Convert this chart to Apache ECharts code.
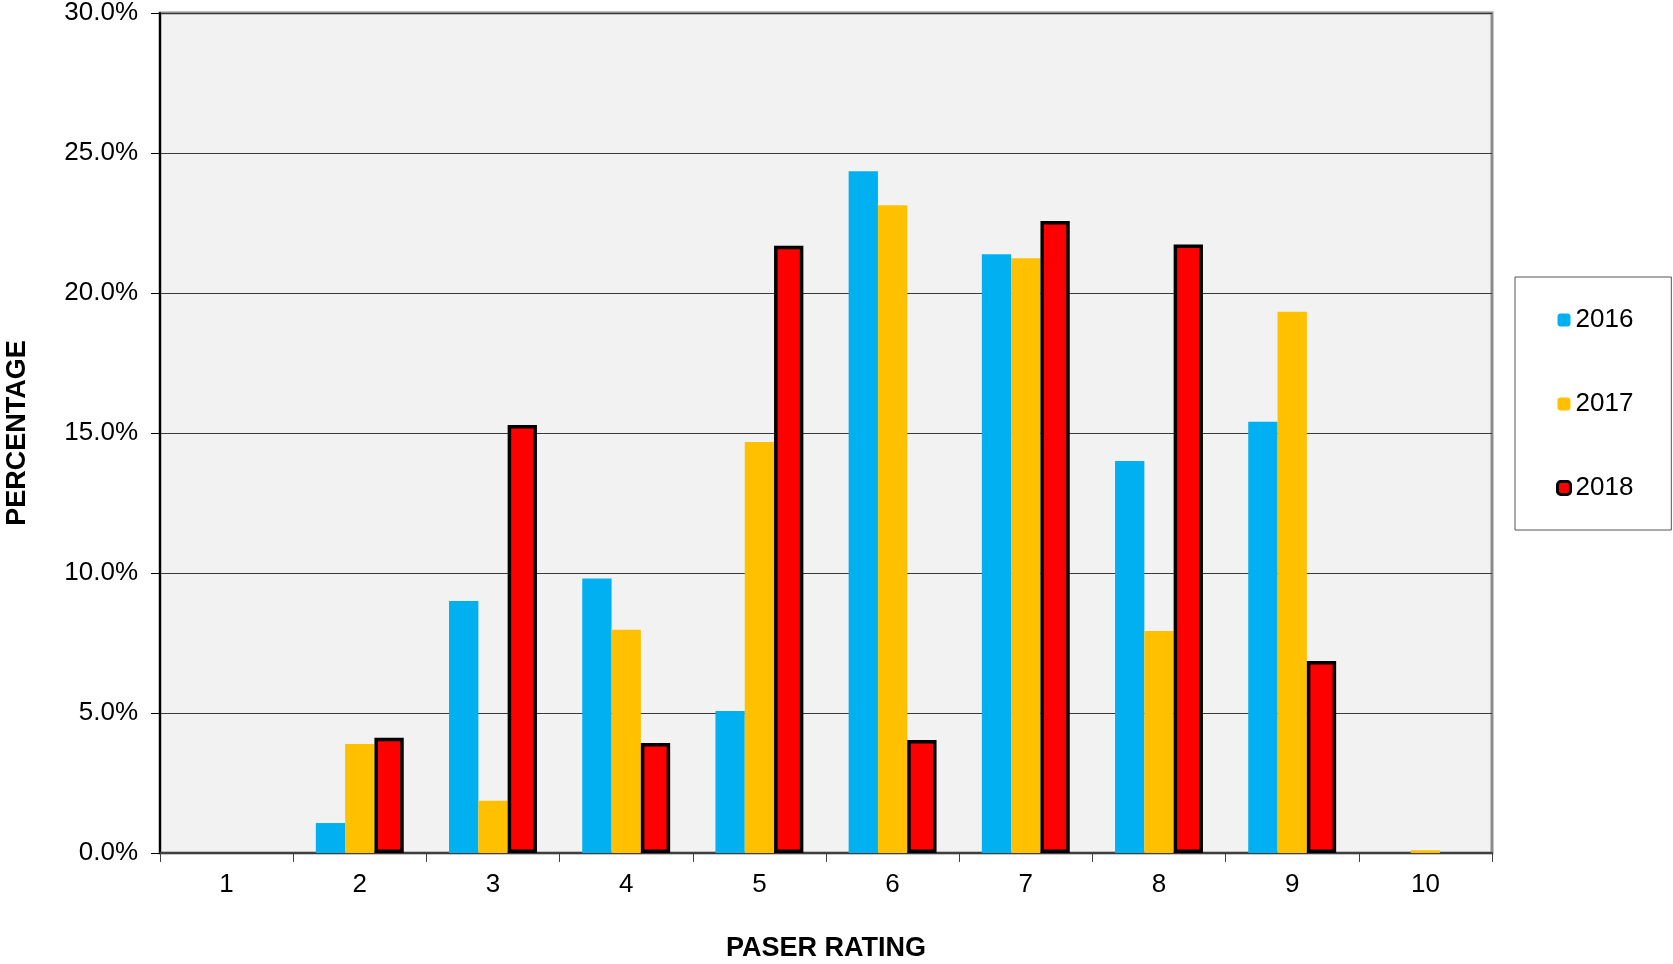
<!DOCTYPE html>
<html>
<head>
<meta charset="utf-8">
<script src="https://cdn.jsdelivr.net/npm/echarts@6/dist/echarts.min.js"></script>
<style>
html,body{margin:0;padding:0;background:#fff;}
#chart{width:1673px;height:964px;}
</style>
</head>
<body>
<div id="chart"></div>
<script>
const categories = ['1','2','3','4','5','6','7','8','9','10'];
const s2016 = [0, 1.07, 9.0, 9.8, 5.07, 24.35, 21.38, 14.0, 15.4, 0];
const s2017 = [0, 3.89, 1.87, 7.97, 14.68, 23.13, 21.24, 7.93, 19.33, 0.1];
const s2018 = [0, 4.12, 15.29, 3.93, 21.69, 4.04, 22.57, 21.73, 6.86, 0];
const yTicks = { min: 0, max: 30, interval: 5 };
const colors = { y2016: '#00B0F0', y2017: '#FFC000', y2018: '#FF0000' };

const FONT = 'Liberation Sans, Arial, sans-serif';

const chart = echarts.init(document.getElementById('chart'));
const option = {
  backgroundColor: '#ffffff',
  animation: false,
  textStyle: { fontFamily: FONT },
  grid: {
    left: 160, right: 181, top: 13, bottom: 111,
    containLabel: false, outerBoundsMode: 'none',
    show: true, backgroundColor: '#f2f2f2', borderColor: '#8c8c8c', borderWidth: 3
  },
  legend: {
    orient: 'vertical',
    left: 1515, top: 277,
    padding: [30, 38, 29, 41],
    borderColor: '#555555', borderWidth: 1,
    backgroundColor: '#ffffff',
    itemWidth: 13, itemHeight: 13,
    itemGap: 58,
    textStyle: { fontSize: 26, color: '#000', fontFamily: FONT, padding: [0, 0, 0, 0] },
    data: [
      { name: '2016', itemStyle: { color: colors.y2016, borderWidth: 0 } },
      { name: '2017', itemStyle: { color: colors.y2017, borderWidth: 0 } },
      { name: '2018', itemStyle: { color: colors.y2018, borderColor: '#000', borderWidth: 3 } }
    ]
  },
  xAxis: {
    type: 'category',
    data: categories,
    name: 'PASER RATING',
    nameLocation: 'middle',
    nameGap: 82,
    nameTextStyle: { fontSize: 27, fontWeight: 'bold', color: '#000', fontFamily: FONT },
    axisLine: { lineStyle: { color: '#404040', width: 2 } },
    axisTick: { show: true, length: 9, lineStyle: { color: '#404040', width: 1 }, alignWithLabel: false },
    axisLabel: { fontSize: 26, color: '#000', margin: 19, fontFamily: FONT },
    splitLine: { show: false }
  },
  yAxis: {
    type: 'value',
    min: yTicks.min, max: yTicks.max, interval: yTicks.interval,
    name: 'PERCENTAGE',
    nameLocation: 'middle',
    nameGap: 129,
    nameTextStyle: { fontSize: 27, fontWeight: 'bold', color: '#000', fontFamily: FONT },
    axisLine: { show: true, lineStyle: { color: '#000', width: 2 } },
    axisTick: { show: true, length: 9, lineStyle: { color: '#000', width: 1 } },
    axisLabel: { fontSize: 26, color: '#000', margin: 22, fontFamily: FONT,
      formatter: v => v.toFixed(1) + '%' },
    splitLine: { show: true, lineStyle: { color: '#3a3a3a', width: 1 } }
  },
  series: [
    { name: '2016', type: 'bar', data: s2016, barGap: '0%', barCategoryGap: '34%',
      itemStyle: { color: colors.y2016 } },
    { name: '2017', type: 'bar', data: s2017, barGap: '0%', barCategoryGap: '34%',
      itemStyle: { color: colors.y2017 } },
    { name: '2018', type: 'bar', barGap: '0%', barCategoryGap: '34%',
      data: s2018.map(v => v === 0 ? { value: v, itemStyle: { borderWidth: 0 } } : v),
      itemStyle: { color: colors.y2018, borderColor: '#000', borderWidth: 3.5 } }
  ]
};
chart.setOption(option);
</script>
</body>
</html>
